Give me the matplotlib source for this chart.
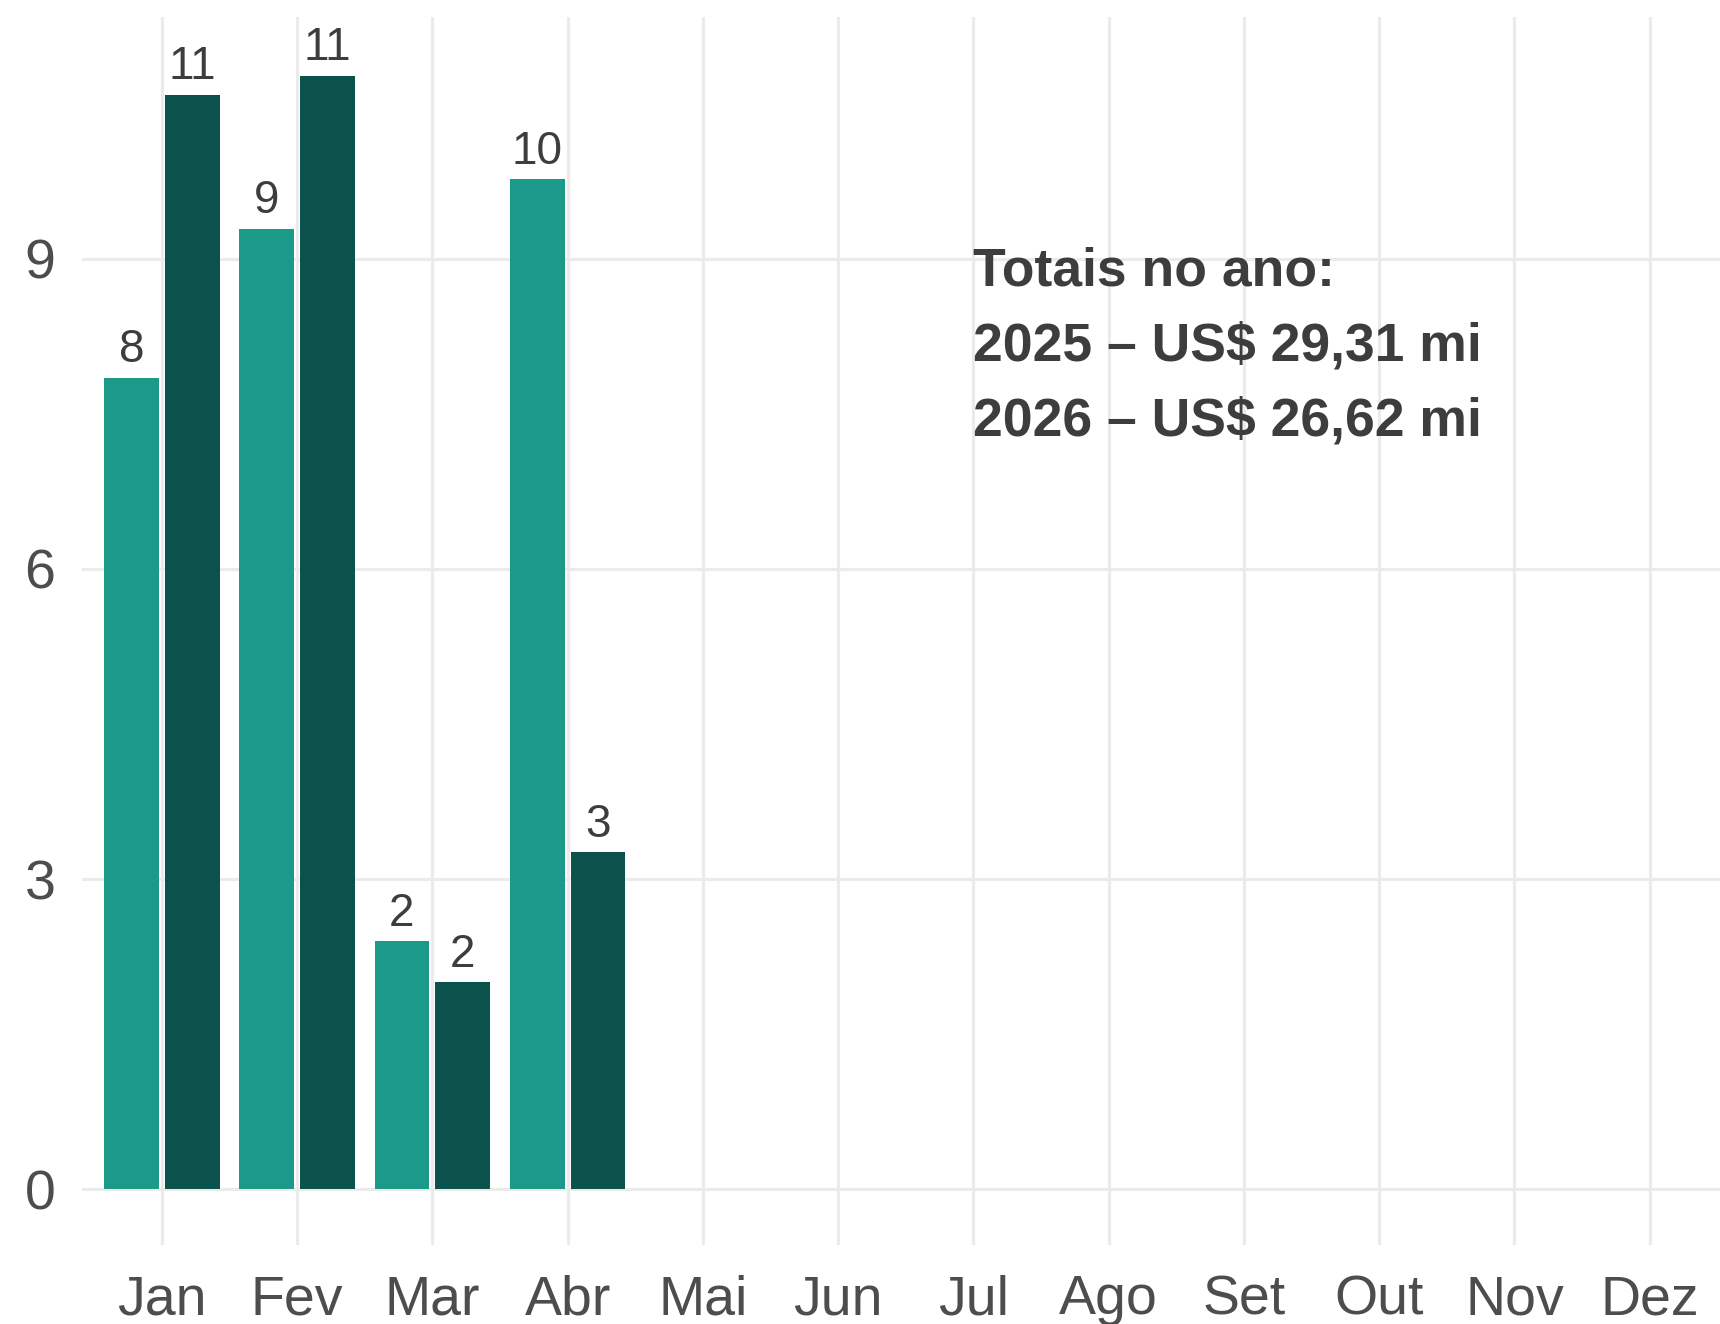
import numpy as np
import matplotlib
matplotlib.use("Agg")
import matplotlib.pyplot as plt

# monthly values (US$ mi)
meses = ['Jan', 'Fev', 'Mar', 'Abr', 'Mai', 'Jun', 'Jul', 'Ago', 'Set', 'Out', 'Nov', 'Dez']
valores_2025 = [7.85, 9.29, 2.40, 9.77]
valores_2026 = [10.59, 10.77, 2.00, 3.26]
rotulos_2025 = ['8', '9', '2', '10']
rotulos_2026 = ['11', '11', '2', '3']
y_ticks = [0, 3, 6, 9]
anotacao = ['Totais no ano:', '2025 – US$ 29,31 mi', '2026 – US$ 26,62 mi']

cor_2025 = '#1b9a8a'
cor_2026 = '#0b524c'
cor_texto = '#3d3d3d'
cor_eixo = '#4d4d4d'
cor_grade = '#ebebeb'

plt.rcParams['font.family'] = ['Liberation Sans', 'DejaVu Sans']

W, H = 1720, 1324
fig = plt.figure(figsize=(W / 100, H / 100), dpi=100)
left, right, top, bottom = 82, 1720, 17, 1245
ax = fig.add_axes([left / W, 1 - bottom / H, (right - left) / W, (bottom - top) / H])

x = np.arange(1, len(valores_2025) + 1)
dodge = 0.225
larg = 0.405
b1 = ax.bar(x - dodge, valores_2025, width=larg, color=cor_2025, zorder=3)
b2 = ax.bar(x + dodge, valores_2026, width=larg, color=cor_2026, zorder=3)

for bars, rot in ((b1, rotulos_2025), (b2, rotulos_2026)):
    for b, r in zip(bars, rot):
        ax.annotate(r, (b.get_x() + b.get_width() / 2, b.get_height()),
                    xytext=(0, 4), textcoords='offset points',
                    ha='center', va='bottom', fontsize=33, color=cor_texto)

ax.text(7.0, 9.12, '\n'.join(anotacao), ha='left', va='top', fontsize=38.5,
        fontweight='bold', color=cor_texto, linespacing=1.64, zorder=4)

ax.set_xlim(0.41, 12.52)
ax.set_ylim(-0.54, 11.34)
ax.set_xticks(np.arange(1, 13))
ax.set_xticklabels(meses)
ax.set_yticks(y_ticks)
ax.tick_params(axis='both', length=0, labelsize=40, labelcolor=cor_eixo)
ax.tick_params(axis='x', pad=21)
ax.tick_params(axis='y', pad=19)
ax.grid(True, color=cor_grade, linewidth=2.2, zorder=0)
for s in ax.spines.values():
    s.set_visible(False)

fig.savefig('out.png', dpi=100)
